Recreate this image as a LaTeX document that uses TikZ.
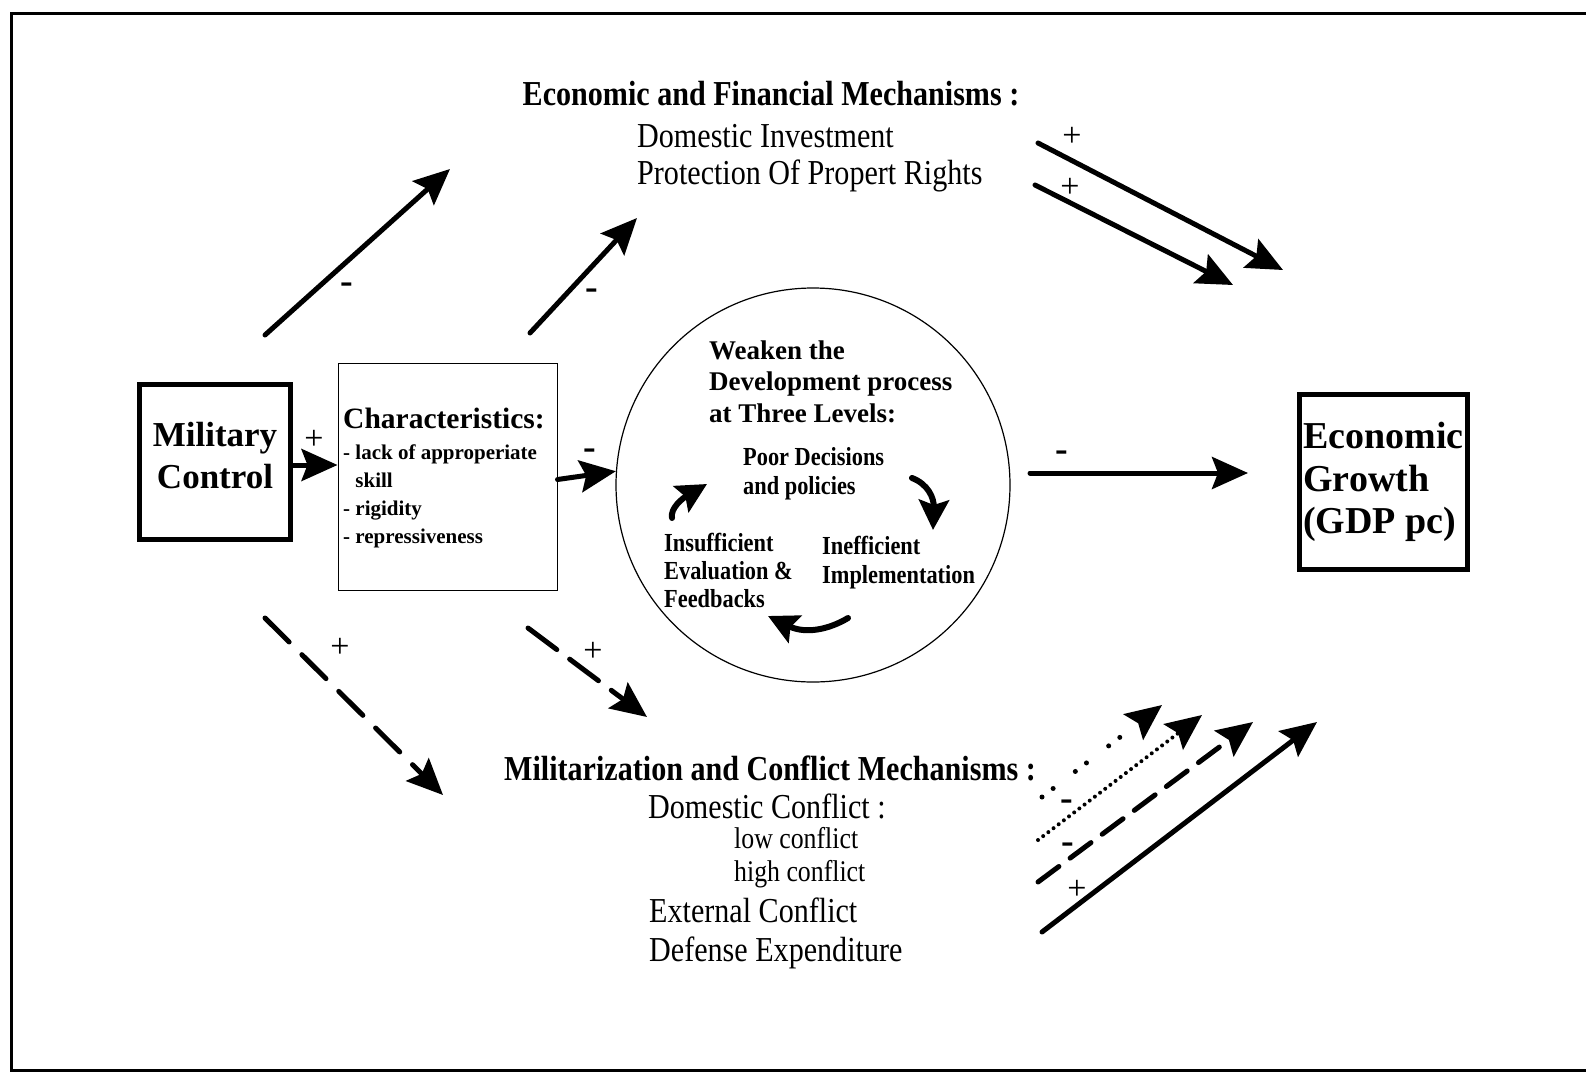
\documentclass[tikz,border=0pt]{standalone}
\usepackage{fontspec}
\setmainfont{Liberation Serif}
\newfontfamily\narrowserif{Liberation Serif}[FakeStretch=0.86]
\usetikzlibrary{arrows.meta}

\begin{document}
\begin{tikzpicture}[x=1pt,y=-1pt,
    heavy/.style={line width=5pt,line cap=round,-{Stealth[length=36pt,width=32pt,inset=6pt]}},
    curly/.style={line width=6pt,line cap=round,-{Stealth[length=30pt,width=30pt,inset=5pt]}},
    plus/.style={inner sep=0pt,font=\fontsize{34}{34}\selectfont},
    minus/.style={inner sep=0pt,font=\bfseries\fontsize{38}{38}\selectfont},
    mech/.style={inner sep=0pt,anchor=base west,align=left,font=\narrowserif\fontsize{35}{37.5}\selectfont},
    mechhead/.style={inner sep=0pt,anchor=base,font=\narrowserif\bfseries\fontsize{35}{35}\selectfont},
    bigbox/.style={draw,line width=5pt,inner sep=0pt,align=center,font=\bfseries\fontsize{35}{42}\selectfont},
    level/.style={inner sep=0pt,anchor=base west,align=left,font=\narrowserif\bfseries\fontsize{26}{28.5}\selectfont}]
    \useasboundingbox (0,0) rectangle (1586,1073);
    \draw[line width=3pt] (1586,14) -- (11,14) -- (11,1070) -- (1586,1070);

    % boxes and circle
    \node at (215,462) [bigbox,minimum width=151pt,minimum height=155pt,text depth=14pt] (mc) {Military\\Control};
    \node at (447.5,476.5) [draw,line width=1pt,minimum width=219pt,minimum height=227pt] (ch) {};
    \node at (813,485) [circle,draw,line width=1.2pt,minimum size=394pt,inner sep=0pt] (wc) {};
    \node at (1383.5,482) [bigbox,align=left,font=\bfseries\fontsize{38}{42.5}\selectfont,minimum width=168pt,minimum height=175pt] (eg) {Economic\\Growth\\(GDP pc)};

    % texts (base = last line)
    \node at (343,428) [anchor=base west,inner sep=0pt,font=\bfseries\fontsize{29.5}{30}\selectfont] (cht) {Characteristics:};
    \node at (343,543) [anchor=base west,inner sep=0pt,align=left,font=\bfseries\fontsize{21}{28}\selectfont] (chl) {- lack of approperiate\\\phantom{- }skill\\- rigidity\\- repressiveness};
    \node at (709,422) [anchor=base west,inner sep=0pt,align=left,font=\bfseries\fontsize{27}{31.5}\selectfont] (wt) {Weaken the\\Development process\\at Three Levels:};
    \node at (743,494) [level] (pd) {Poor Decisions\\and policies};
    \node at (664,607.5) [level,font=\narrowserif\bfseries\fontsize{26}{28}\selectfont] (ie) {Insufficient\\Evaluation \&\\Feedbacks};
    \node at (822,583) [level] (ii) {Inefficient\\Implementation};
    \node at (771,105) [mechhead] (efm) {Economic and Financial Mechanisms :};
    \node at (637,184.5) [mech] (efl) {Domestic Investment\\Protection Of Propert Rights};
    \node at (770,780) [mechhead] (mcm) {Militarization and Conflict Mechanisms :};
    \node at (648,818.5) [mech] (dc) {Domestic Conflict :};
    \node at (734,881) [mech,font=\narrowserif\fontsize{30}{33}\selectfont] (lh) {low conflict\\high conflict};
    \node at (649,961.5) [mech,font=\narrowserif\fontsize{35}{39}\selectfont] (ed) {External Conflict\\Defense Expenditure};

    % free ends of the arrows
    \coordinate (ul1) at (265,335); \coordinate (ul2) at (450,169);
    \coordinate (ul3) at (530,333); \coordinate (ul4) at (637,218);
    \coordinate (gr1) at (1030,473); \coordinate (gr2) at (1248,473);
    \coordinate (ur1) at (1038,143); \coordinate (ur2) at (1283,270);
    \coordinate (ur3) at (1035,185); \coordinate (ur4) at (1233,285);
    \coordinate (dl1) at (265,618); \coordinate (dl2) at (443,795);
    \coordinate (dl3) at (528,628); \coordinate (dl4) at (647,717);
    \coordinate (lr1) at (1042,797); \coordinate (lr2) at (1162,705);
    \coordinate (lr3) at (1038,840); \coordinate (lr4) at (1202,715);
    \coordinate (lr5) at (1038,882); \coordinate (lr6) at (1253,722);
    \coordinate (lr7) at (1042,932); \coordinate (lr8) at (1317,722);
    \coordinate (c1) at (912,478); \coordinate (c2) at (933,530);
    \coordinate (c3) at (848,618); \coordinate (c4) at (768,616);
    \coordinate (c5) at (672,518); \coordinate (c6) at (707,484);

    \draw[heavy] (ul1) -- (ul2);
    \draw[heavy] (ul3) -- (ul4);
    \draw[heavy] ([yshift=-3pt]mc.east) -- ([yshift=-3pt]mc.east -| ch.west);
    \draw[heavy] ([yshift=-3pt]ch.east) -- (wc.176);
    \draw[heavy] (gr1) -- (gr2);
    \draw[heavy] (ur1) -- (ur2);
    \draw[heavy] (ur3) -- (ur4);
    \draw[heavy,dash pattern=on 34pt off 18pt] (dl1) -- (dl2);
    \draw[heavy,dash pattern=on 36pt off 16pt] (dl3) -- (dl4);
    \draw[heavy,dash pattern=on 0pt off 14pt on 0pt off 28pt] (lr1) -- (lr2);
    \draw[heavy,line width=4pt,dash pattern=on 0pt off 6.5pt] (lr3) -- (lr4);
    \draw[heavy,dash pattern=on 26pt off 14pt] (lr5) -- (lr6);
    \draw[heavy] (lr7) -- (lr8);
    \draw[curly] (c1) .. controls (928,484) and (934,498) .. (c2);
    \draw[curly] (c3) .. controls (828,630) and (805,634) .. (c4);
    \draw[curly] (c5) .. controls (670,508) and (683,498) .. (c6);

    % signs
    \node at (347,288) [minus] (s1) {-};
    \node at (592,294) [minus] (s2) {-};
    \node at (314,440) [plus] (s3) {+};
    \node at (590,454) [minus] (s4) {-};
    \node at (1062,456) [minus] (s5) {-};
    \node at (1072,137) [plus] (s6) {+};
    \node at (1070,188) [plus] (s7) {+};
    \node at (340,648) [plus] (s8) {+};
    \node at (593,652) [plus] (s9) {+};
    \node at (1067,805) [minus] (s10) {-};
    \node at (1068,848) [minus] (s11) {-};
    \node at (1077,890) [plus] (s12) {+};
\end{tikzpicture}
\end{document}
